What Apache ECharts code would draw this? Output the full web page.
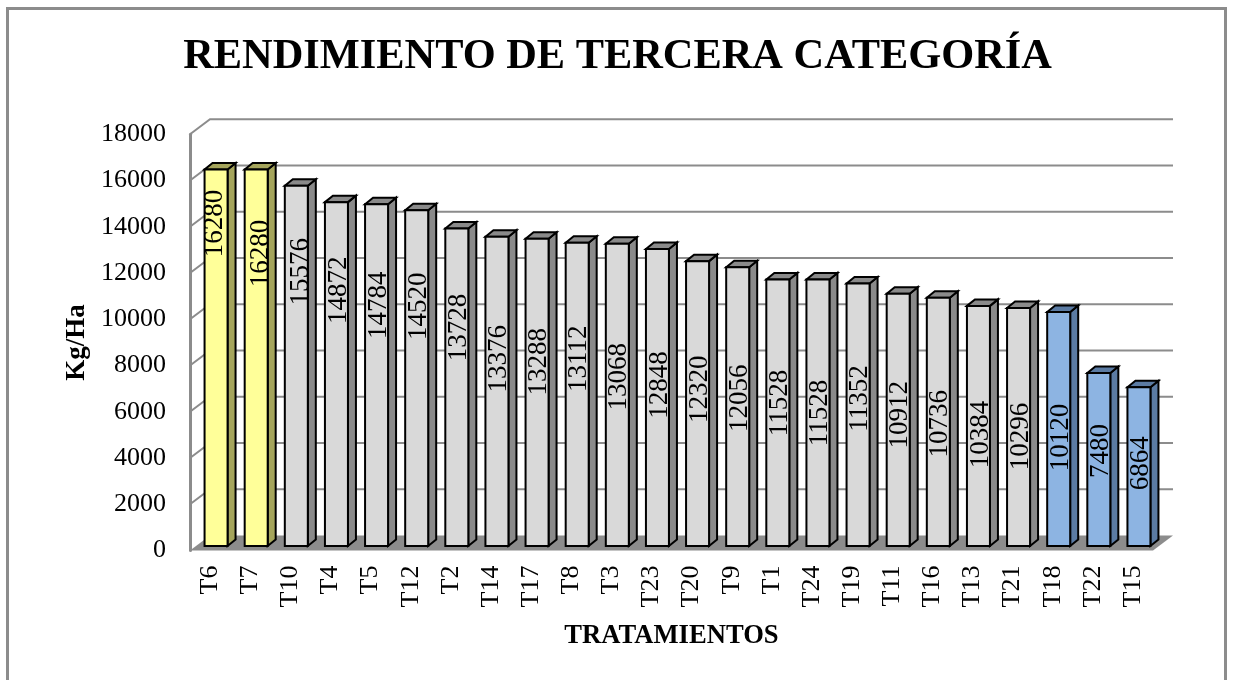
<!DOCTYPE html>
<html>
<head>
<meta charset="utf-8">
<style>html,body{margin:0;padding:0;background:#fff;overflow:hidden}#c{width:1233px;height:680px}</style>
<script src="https://cdn.jsdelivr.net/npm/echarts@6/dist/echarts.min.js"></script>
</head>
<body>
<div id="c"></div>
<script>
const categories = ['T6','T7','T10','T4','T5','T12','T2','T14','T17','T8','T3','T23','T20','T9','T1','T24','T19','T11','T16','T13','T21','T18','T22','T15'];
const rendimiento = [16280,16280,15576,14872,14784,14520,13728,13376,13288,13112,13068,12848,12320,12056,11528,11528,11352,10912,10736,10384,10296,10120,7480,6864];
const grupos = ['alto','alto','medio','medio','medio','medio','medio','medio','medio','medio','medio','medio','medio','medio','medio','medio','medio','medio','medio','medio','medio','bajo','bajo','bajo'];
const yTicks = [0,2000,4000,6000,8000,10000,12000,14000,16000,18000];

// Styling and layout (not data)
const FONT = '"Liberation Serif", serif';
const palette = {
  alto:  {face:'#FFFF99', side:'#A5A55C'},
  medio: {face:'#D9D9D9', side:'#8A8A8A'},
  bajo:  {face:'#8DB4E2', side:'#5B7BA3'}
};
const WALL = {dx:20, dy:15, color:'#8C8C8C'};
const BAR = {dx:6, dy:4.5, w:23, sideW:8, sideH:6.5};
// hand-placed data labels of the source chart: px from bar top to label centre, px sideways
const labelDrop = [54,84,86,88,101,96,99,122,123,116,133,136,128,131,123.5,133.5,115,121,126,128.5,128.5,125.5,78,76];
const labelShift = [-1,5,5,2,2,2,2,2,2,2,2,2,2,2,2,2,2,2,2,2,2,2,2,2];

function renderWall(params, api) {
  const cs = params.coordSys;
  const v = api.value(0);
  const y = api.coord([0, v])[1];
  const x0 = cs.x, x1 = cs.x + cs.width;
  const children = [];
  if (v === 0) {
    children.push({type:'polygon', shape:{points:[[x0,y],[x0+WALL.dx,y-WALL.dy],[x1+WALL.dx,y-WALL.dy],[x1,y]]},
      style:{fill:WALL.color, stroke:null}});
  } else {
    children.push({type:'polyline', shape:{points:[[x0,y],[x0+WALL.dx,y-WALL.dy],[x1+WALL.dx,y-WALL.dy]]},
      style:{fill:null, stroke:WALL.color, lineWidth:2}});
  }
  return {type:'group', children};
}

function renderBar(params, api) {
  const i = api.value(0), v = api.value(1);
  const top = api.coord([i, v]), base = api.coord([i, 0]);
  const c = palette[grupos[i]];
  const xl = top[0] + BAR.dx - BAR.w / 2, xr = xl + BAR.w;
  const yt = top[1] - BAR.dy, yb = base[1] - BAR.dy;
  const edge = {stroke:'#000', lineWidth:2, lineJoin:'miter'};
  return {type:'group', children:[
    {type:'polygon', shape:{points:[[xr,yt],[xr+BAR.sideW,yt-BAR.sideH],[xr+BAR.sideW,yb-BAR.sideH],[xr,yb]]},
      style:Object.assign({fill:c.side}, edge)},
    {type:'polygon', shape:{points:[[xl,yt],[xl+BAR.sideW,yt-BAR.sideH],[xr+BAR.sideW,yt-BAR.sideH],[xr,yt]]},
      style:Object.assign({fill:c.side}, edge)},
    {type:'rect', shape:{x:xl, y:yt, width:BAR.w, height:yb-yt}, style:Object.assign({fill:c.face}, edge)},
    {type:'text', x:xl + BAR.w/2 + labelShift[i], y:yt + labelDrop[i], rotation:Math.PI/2,
      style:{text:String(v), fill:'#000', font:'27px '+FONT, align:'center', verticalAlign:'middle'}}
  ]};
}

const chart = echarts.init(document.getElementById('c'), null, {renderer:'canvas'});
chart.setOption({
  animation:false,
  backgroundColor:'#fff',
  title:{text:'RENDIMIENTO DE TERCERA CATEGORÍA', left:612.5, top:31, textAlign:'center',
    textStyle:{fontFamily:FONT, fontWeight:'bold', fontSize:42.4, color:'#000'}},
  graphic:[{type:'rect', z:-1, shape:{x:7.5,y:8.5,width:1218,height:720}, style:{fill:'#fff', stroke:'#8C8C8C', lineWidth:3}}],
  grid:{left:190, right:80, top:134.3, bottom:129.5, containLabel:false},
  xAxis:{type:'category', data:categories, name:'TRATAMIENTOS', nameLocation:'middle', nameGap:72,
    nameTextStyle:{fontFamily:FONT, fontWeight:'bold', fontSize:26.6, color:'#000'},
    axisLine:{show:false}, axisTick:{show:false}, splitLine:{show:false},
    axisLabel:{interval:0, rotate:90, margin:15, fontFamily:FONT, fontSize:26, color:'#000'}},
  yAxis:{type:'value', min:0, max:18000, interval:2000, name:'Kg/Ha', nameLocation:'middle', nameGap:99,
    nameTextStyle:{fontFamily:FONT, fontWeight:'bold', fontSize:27, color:'#000'},
    axisLine:{show:true, lineStyle:{color:'#8C8C8C', width:3}}, axisTick:{show:false}, splitLine:{show:false},
    axisLabel:{margin:24, fontFamily:FONT, fontSize:26, color:'#000', formatter:v=>String(v)}},
  series:[
    {type:'custom', name:'Pared', z:1, clip:false, silent:true, renderItem:renderWall, data:yTicks.map(v=>[v]), encode:{y:0}},
    {type:'custom', name:'Rendimiento', z:2, clip:false, renderItem:renderBar,
      data:rendimiento.map((v,i)=>[i,v]), encode:{x:0,y:1}}
  ]
});
</script>
</body>
</html>
